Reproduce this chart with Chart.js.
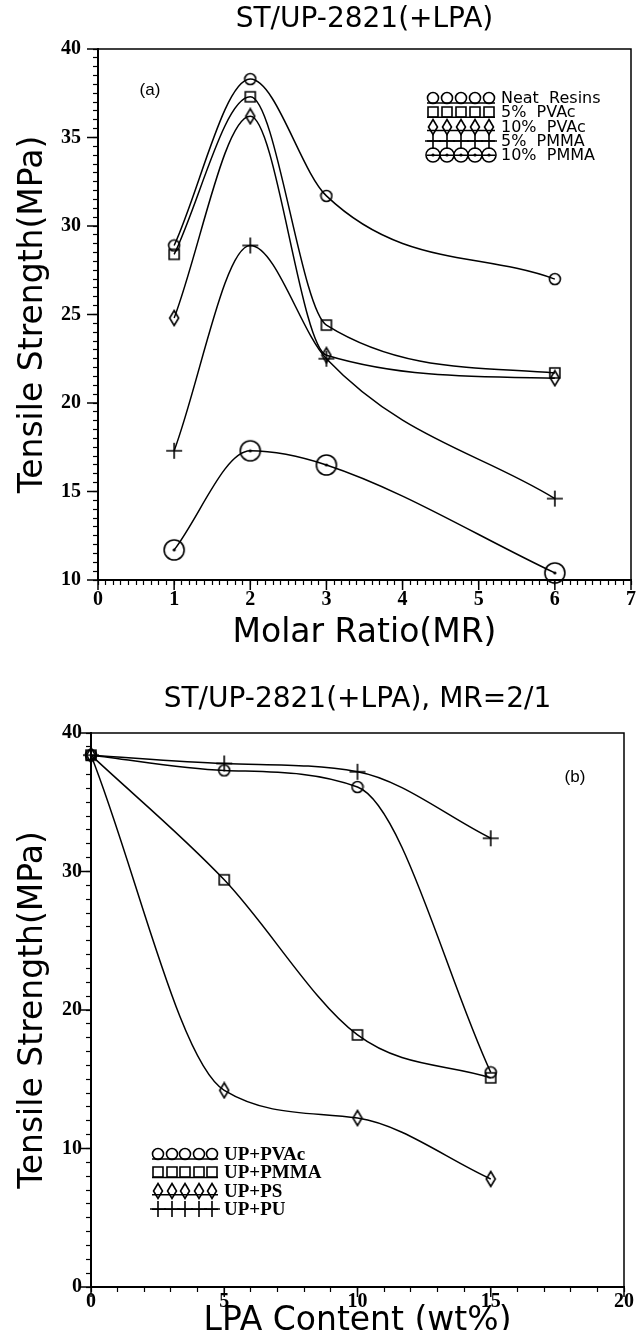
<!DOCTYPE html>
<html>
<head>
<meta charset="utf-8">
<script src="https://cdn.jsdelivr.net/npm/chart.js@4.4.0/dist/chart.umd.min.js"></script>
<style>
  body { margin: 0; background: #fff; width: 639px; height: 1330px; overflow: hidden; position: relative; }
  .box { position: absolute; left: 0; width: 639px; }
  #boxA { top: 0; height: 660px; }
  #boxB { top: 660px; height: 690px; }
</style>
</head>
<body>
<div class="box" id="boxA"><canvas id="chartA" width="639" height="660"></canvas></div>
<div class="box" id="boxB"><canvas id="chartB" width="639" height="690"></canvas></div>
<script>
// (a) tensile strength vs molar ratio
const molarRatio = [1, 2, 3, 6];
const neatResins = [28.9, 38.3, 31.7, 27.0];
const pvac5 = [28.4, 37.3, 24.4, 21.7];
const pvac10 = [24.8, 36.2, 22.7, 21.4];
const pmma5 = [17.3, 28.9, 22.5, 14.6];
const pmma10 = [11.7, 17.3, 16.5, 10.4];
const labelsA = ['Neat  Resins', '5%  PVAc', '10%  PVAc', '5%  PMMA', '10%  PMMA'];

// (b) tensile strength vs LPA content, MR=2/1
const lpaContent = [0, 5, 10, 15];
const upPVAc = [38.4, 37.3, 36.1, 15.5];
const upPMMA = [38.4, 29.4, 18.2, 15.1];
const upPS = [38.4, 14.2, 12.2, 7.8];
const upPU = [38.4, 37.8, 37.2, 32.4];
const labelsB = ['UP+PVAc', 'UP+PMMA', 'UP+PS', 'UP+PU'];

const TICK_FONT = { family: 'Liberation Serif', size: 20, weight: 'bold' };
const TITLE_FONT = { family: 'DejaVu Sans', size: 28, weight: 'normal' };
const AXIS_FONT = { family: 'DejaVu Sans', size: 33, weight: 'normal' };

// hollow marker images, reused by the datasets and the legends
function marker(kind, r) {
  const c = document.createElement('canvas');
  const sz = { circle: 14, square: 14, diamond: [12, 18], plus: 18, ring: 2 * (r || 10) + 4 }[kind];
  c.width = Array.isArray(sz) ? sz[0] : sz;
  c.height = Array.isArray(sz) ? sz[1] : sz;
  const g = c.getContext('2d');
  const cx = c.width / 2, cy = c.height / 2;
  g.strokeStyle = '#000'; g.fillStyle = '#000'; g.lineWidth = 1.6;
  g.beginPath();
  if (kind === 'circle') g.arc(cx, cy, 5.5, 0, Math.PI * 2);
  if (kind === 'square') g.rect(cx - 5, cy - 5, 10, 10);
  if (kind === 'diamond') { g.moveTo(cx, 1.5); g.lineTo(cx + 4.5, cy); g.lineTo(cx, c.height - 1.5); g.lineTo(cx - 4.5, cy); g.closePath(); }
  if (kind === 'plus') { g.moveTo(1, cy); g.lineTo(c.width - 1, cy); g.moveTo(cx, 1); g.lineTo(cx, c.height - 1); }
  if (kind === 'ring') { g.arc(cx, cy, r || 10, 0, Math.PI * 2); }
  g.stroke();
  if (kind === 'ring') { g.beginPath(); g.arc(cx, cy, 1.6, 0, Math.PI * 2); g.fill(); }
  return c;
}
const MK = { circle: marker('circle'), square: marker('square'), diamond: marker('diamond'), plus: marker('plus'), ring: marker('ring', 10), smallRing: marker('ring', 7) };
// where the legend's rule line crosses each symbol (offset from its centre)
const RULE = new Map([[MK.circle, 5], [MK.square, 5], [MK.diamond, 4], [MK.plus, 0], [MK.smallRing, 0]]);

function series(xs, ys, style, label) {
  return {
    label,
    data: xs.map((x, i) => ({ x, y: ys[i] })),
    borderColor: '#000', borderWidth: 1.5, cubicInterpolationMode: 'monotone', fill: false, clip: false,
    pointStyle: style, pointRadius: 7, pointBorderColor: '#000', pointBackgroundColor: 'rgba(0,0,0,0)'
  };
}

const near = (v, m) => Math.abs(v / m - Math.round(v / m)) < 1e-6;

// frame, long major ticks, panel tag and the symbol legend
const decor = {
  id: 'decor',
  afterDraw(chart, args, o) {
    const { ctx, chartArea: a, scales } = chart;
    ctx.save();
    ctx.strokeStyle = '#000'; ctx.lineWidth = 1.5;
    ctx.beginPath();
    ctx.moveTo(a.left, a.top); ctx.lineTo(a.right, a.top); ctx.lineTo(a.right, a.bottom);
    o.xMajor.forEach(v => { const x = scales.x.getPixelForValue(v); ctx.moveTo(x, a.bottom); ctx.lineTo(x, a.bottom + 10); });
    o.yMajor.forEach(v => { const y = scales.y.getPixelForValue(v); ctx.moveTo(a.left, y); ctx.lineTo(a.left - 11, y); });
    ctx.stroke();

    ctx.fillStyle = '#000';
    ctx.font = '17px "Liberation Sans"';
    ctx.textAlign = 'center'; ctx.textBaseline = 'middle';
    ctx.fillText(o.tag[0], o.tag[1], o.tag[2]);

    const L = o.legend;
    ctx.font = L.font; ctx.textAlign = 'left';
    L.items.forEach((it, i) => {
      const y = L.y + i * L.dy;
      const ry = y + (RULE.get(it.img) || 0);
      ctx.lineWidth = 1.5;
      ctx.beginPath(); ctx.moveTo(L.x0, ry); ctx.lineTo(L.x1, ry); ctx.stroke();
      for (let k = 0; k < 5; k++) {
        const cx = L.x0 + 6 + k * (L.x1 - L.x0 - 12) / 4;
        ctx.drawImage(it.img, Math.round(cx - it.img.width / 2), Math.round(y - it.img.height / 2));
      }
      ctx.fillText(it.text, L.x1 + 6, y + 1);
    });
    ctx.restore();
  }
};

function axes(xmin, xmax, xstep, xlab, ymin, ymax, ystep, ylab, xTitle, yTitle, yWidth, xHeight, xTitlePad, xLabPad, yLabPad) {
  return {
    x: {
      type: 'linear', min: xmin, max: xmax,
      afterFit: s => { s.height = xHeight; },
      ticks: { stepSize: xstep, maxTicksLimit: 1000, autoSkip: false, maxRotation: 0, minRotation: 0,
               callback: v => near(v, xlab) ? String(Math.round(v)) : '', font: TICK_FONT, color: '#000', padding: xLabPad },
      grid: { drawOnChartArea: false, drawTicks: true, tickLength: 5, tickColor: '#000', tickWidth: 1.2 },
      border: { display: true, color: '#000', width: 2 },
      title: { display: true, text: xTitle, font: AXIS_FONT, color: '#000', padding: { top: 0, bottom: xTitlePad } }
    },
    y: {
      type: 'linear', min: ymin, max: ymax,
      afterFit: s => { s.width = yWidth; },
      ticks: { stepSize: ystep, maxTicksLimit: 1000, autoSkip: false,
               callback: v => near(v, ylab) ? String(Math.round(v)) : '', font: TICK_FONT, color: '#000', padding: yLabPad },
      grid: { drawOnChartArea: false, drawTicks: true, tickLength: 5, tickColor: '#000', tickWidth: 1.2 },
      border: { display: true, color: '#000', width: 2 },
      title: { display: true, text: yTitle, font: AXIS_FONT, color: '#000', padding: { top: 14, bottom: 0 } }
    }
  };
}

new Chart(document.getElementById('chartA'), {
  type: 'line',
  data: {
    datasets: [
      series(molarRatio, neatResins, MK.circle, labelsA[0]),
      series(molarRatio, pvac5, MK.square, labelsA[1]),
      series(molarRatio, pvac10, MK.diamond, labelsA[2]),
      series(molarRatio, pmma5, MK.plus, labelsA[3]),
      series(molarRatio, pmma10, MK.ring, labelsA[4])
    ]
  },
  options: {
    responsive: false, animation: false,
    layout: { autoPadding: false, padding: { left: 0, right: 3, top: 0, bottom: 0 } },
    plugins: {
      legend: { display: false }, tooltip: { enabled: false },
      title: { display: true, fullSize: false, text: 'ST/UP-2821(+LPA)', font: TITLE_FONT, color: '#000', padding: { top: 3, bottom: 12.4 } },
      decor: {
        xMajor: [0, 1, 2, 3, 4, 5, 6, 7], yMajor: [10, 15, 20, 25, 30, 35, 40],
        tag: ['(a)', 150, 90],
        legend: { x0: 427, x1: 495, y: 98, dy: 14.3, font: '16px "DejaVu Sans"',
          items: [MK.circle, MK.square, MK.diamond, MK.plus, MK.smallRing].map((img, i) => ({ img, text: labelsA[i] })) }
      }
    },
    scales: axes(0, 7, 0.1, 1, 10, 40, 0.5, 5, 'Molar Ratio(MR)', 'Tensile Strength(MPa)', 98, 80, 7, 3, 12)
  },
  plugins: [decor]
});

new Chart(document.getElementById('chartB'), {
  type: 'line',
  data: {
    datasets: [
      series(lpaContent, upPVAc, MK.circle, labelsB[0]),
      series(lpaContent, upPMMA, MK.square, labelsB[1]),
      series(lpaContent, upPS, MK.diamond, labelsB[2]),
      series(lpaContent, upPU, MK.plus, labelsB[3])
    ]
  },
  options: {
    responsive: false, animation: false,
    layout: { autoPadding: false, padding: { left: 0, right: 15, top: 0, bottom: 0 } },
    plugins: {
      legend: { display: false }, tooltip: { enabled: false },
      title: { display: true, fullSize: false, text: 'ST/UP-2821(+LPA), MR=2/1', font: TITLE_FONT, color: '#000', padding: { top: 23.2, bottom: 16.2 } },
      decor: {
        xMajor: [0, 5, 10, 15, 20], yMajor: [0, 10, 20, 30, 40],
        tag: ['(b)', 575, 117],
        legend: { x0: 152, x1: 218, y: 494, dy: 18.4, font: 'bold 19px "Liberation Serif"',
          items: [MK.circle, MK.square, MK.diamond, MK.plus].map((img, i) => ({ img, text: labelsB[i] })) }
      }
    },
    scales: axes(0, 20, 1, 5, 0, 40, 1, 10, 'LPA Content (wt%)', 'Tensile Strength(MPa)', 91, 63, 9, -2, 4)
  },
  plugins: [decor]
});
</script>
</body>
</html>
